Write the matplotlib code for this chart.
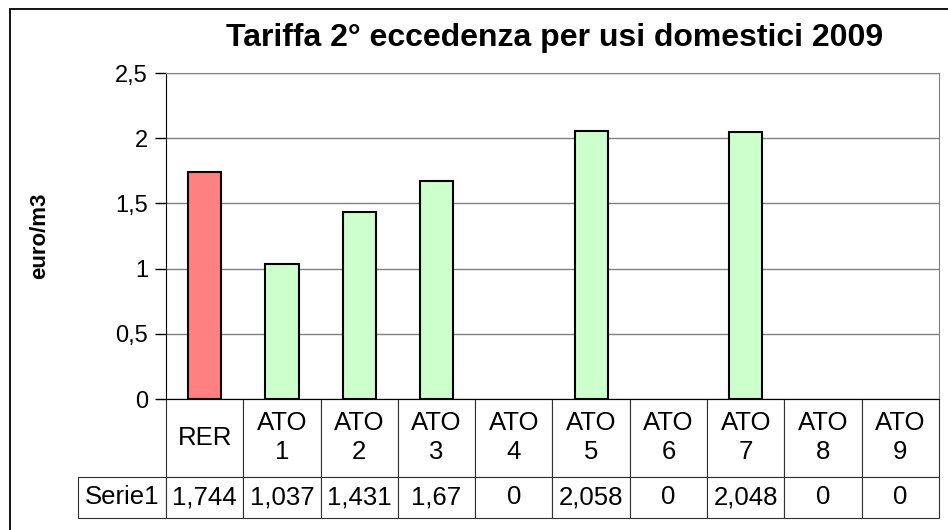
import matplotlib.pyplot as plt
from matplotlib.patches import Rectangle
from matplotlib.ticker import FuncFormatter

plt.rcParams['font.family'] = ['Liberation Sans', 'DejaVu Sans']

# dati
categorie = ['RER', 'ATO\n1', 'ATO\n2', 'ATO\n3', 'ATO\n4', 'ATO\n5', 'ATO\n6', 'ATO\n7', 'ATO\n8', 'ATO\n9']
valori = [1.744, 1.037, 1.431, 1.67, 0, 2.058, 0, 2.048, 0, 0]
colori = ['#FF8080'] + ['#CCFFCC'] * 9
serie = 'Serie1'
titolo = 'Tariffa 2° eccedenza per usi domestici 2009'


def virgola(v, pos=None):
    return f'{v:g}'.replace('.', ',')


fig = plt.figure(figsize=(9.48, 5.30), dpi=100)
W, H = 948, 530

# cornice esterna (tagliata a destra e in basso)
fig.patches.append(Rectangle((10 / W, -0.1), 2, 1.1 - 9 / H, transform=fig.transFigure,
                             fill=False, edgecolor='black', linewidth=1.3))

ax = fig.add_axes([166 / W, 131 / H, 773 / W, 326 / H])
x = range(len(valori))
ax.bar(x, valori, width=0.43, color=colori, edgecolor='black',
       linewidth=[1.5 if v else 0 for v in valori], zorder=3)
ax.set_xlim(-0.5, len(valori) - 0.5)
ax.set_ylim(0, 2.5)
ax.set_yticks([0, 0.5, 1, 1.5, 2, 2.5])
ax.yaxis.set_major_formatter(FuncFormatter(virgola))
ax.tick_params(axis='y', labelsize=17, length=8, width=1, direction='out', pad=5)
ax.set_xticks([])
ax.grid(axis='y', color='#808080', linewidth=1, zorder=0)
for s in ['top', 'right']:
    ax.spines[s].set_color('#808080')
ax.spines['left'].set_color('black')
ax.spines['bottom'].set_color('black')

# tabella dati (prima colonna = etichetta della serie)
larghezze = [88] + [77.3] * len(valori)
tot = sum(larghezze)
tab = ax.table(cellText=[[serie] + [virgola(v) for v in valori]], colLabels=[''] + categorie,
               colWidths=[w / tot for w in larghezze], cellLoc='center',
               bbox=[-88 / 773, -119 / 326, tot / 773, 119 / 326])
tab.auto_set_font_size(False)
tab.set_fontsize(18.5)
for (r, c), cell in tab.get_celld().items():
    cell.set_linewidth(0.8)
    cell.set_edgecolor('#303030')
    cell.set_height(77 if r == 0 else 41)
    cell.get_text().set_linespacing(1.25)
    if r == 0 and c == 0:
        cell.visible_edges = ''

fig.text(555 / W, 1 - 38 / H, titolo, ha='center', va='center', fontsize=23, fontweight='bold')
fig.text(40 / W, 1 - 236 / H, 'euro/m3', ha='center', va='center', rotation=90,
         fontsize=16, fontweight='bold')

fig.savefig('out.png', dpi=100)
